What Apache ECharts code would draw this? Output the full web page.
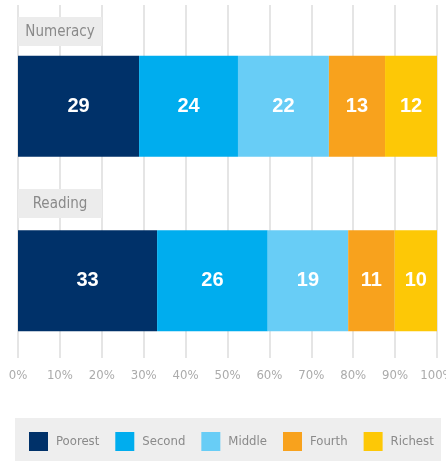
<!DOCTYPE html>
<html>
<head>
<meta charset="utf-8">
<script src="https://cdn.jsdelivr.net/npm/echarts@6/dist/echarts.min.js"></script>
<style>
  html, body { margin: 0; padding: 0; background: #fff; }
  #chart { width: 446px; height: 461px; }
</style>
</head>
<body>
<div id="chart"></div>
<script>
var subjects = ['Numeracy', 'Reading'];
var groups = ['Poorest', 'Second', 'Middle', 'Fourth', 'Richest'];
var colors = ['#003169', '#00adee', '#68cdf6', '#f8a21d', '#fdc806'];
// share of each wealth quintile, per subject (Numeracy, Reading)
var poorest = [28.9, 33.2];
var second = [23.6, 26.4];
var middle = [21.7, 19.2];
var fourth = [13.4, 11.1];
var richest = [12.4, 10.1];
var ticks = [0, 10, 20, 30, 40, 50, 60, 70, 80, 90, 100];

var narrow = '"Liberation Sans Narrow", "DejaVu Sans Condensed", sans-serif';
var values = [poorest, second, middle, fourth, richest];

var series = groups.map(function(name, i) {
    return {
        name: name,
        type: 'bar',
        stack: 'all',
        xAxisIndex: 0,
        yAxisIndex: 0,
        barWidth: 101,
        itemStyle: { color: colors[i] },
        label: {
            show: true,
            position: 'inside',
            color: '#fff',
            fontFamily: 'Liberation Sans, Arial, sans-serif',
            fontWeight: 'bold',
            fontSize: 20,
            formatter: function(p) { return Math.round(p.value); }
        },
        data: values[i]
    };
});

// label boxes above each bar
var boxes = [];
var boxTops = [17, 189];
subjects.forEach(function(s, i) {
    boxes.push({
        type: 'rect',
        z: 100,
        shape: { x: 18, y: boxTops[i], width: 84, height: 29 },
        style: { fill: '#ececec' }
    });
    boxes.push({
        type: 'text',
        z: 101,
        x: 60,
        y: boxTops[i] + 15,
        style: { text: s, fill: '#8a8a8a', font: '15px ' + narrow, align: 'center', verticalAlign: 'middle' }
    });
});
boxes.push({
    type: 'rect',
    z: 0,
    shape: { x: 15, y: 418, width: 426, height: 43 },
    style: { fill: '#eeeeee' }
});

var chart = echarts.init(document.getElementById('chart'));
chart.setOption({
    animation: false,
    grid: [
        { left: 18, right: 9, top: 19, height: 349, outerBoundsMode: 'none', containLabel: false },
        { left: 18, right: 9, top: 5, height: 353, outerBoundsMode: 'none', containLabel: false }
    ],
    xAxis: [{
        gridIndex: 0,
        type: 'value',
        min: 0,
        max: 100,
        show: false
    }, {
        gridIndex: 1,
        type: 'value',
        min: ticks[0],
        max: ticks[ticks.length - 1],
        interval: 10,
        axisLine: { show: false },
        axisTick: { show: false },
        splitLine: { show: true, lineStyle: { color: '#dddddd', width: 1.5 } },
        axisLabel: {
            color: '#ababab',
            fontFamily: narrow,
            fontSize: 13,
            margin: 11,
            formatter: '{value}%'
        }
    }],
    yAxis: [{
        gridIndex: 0,
        type: 'category',
        inverse: true,
        data: subjects,
        show: false
    }, {
        gridIndex: 1,
        type: 'value',
        show: false
    }],
    legend: {
        data: groups,
        left: 29,
        top: 432,
        width: 420,
        padding: 0,
        itemWidth: 19,
        itemHeight: 19,
        itemGap: 16,
        icon: 'rect',
        textStyle: { color: '#8a8a8a', fontFamily: narrow, fontSize: 13, padding: [0, 0, 0, 3] }
    },
    graphic: boxes,
    series: series
});
</script>
</body>
</html>
